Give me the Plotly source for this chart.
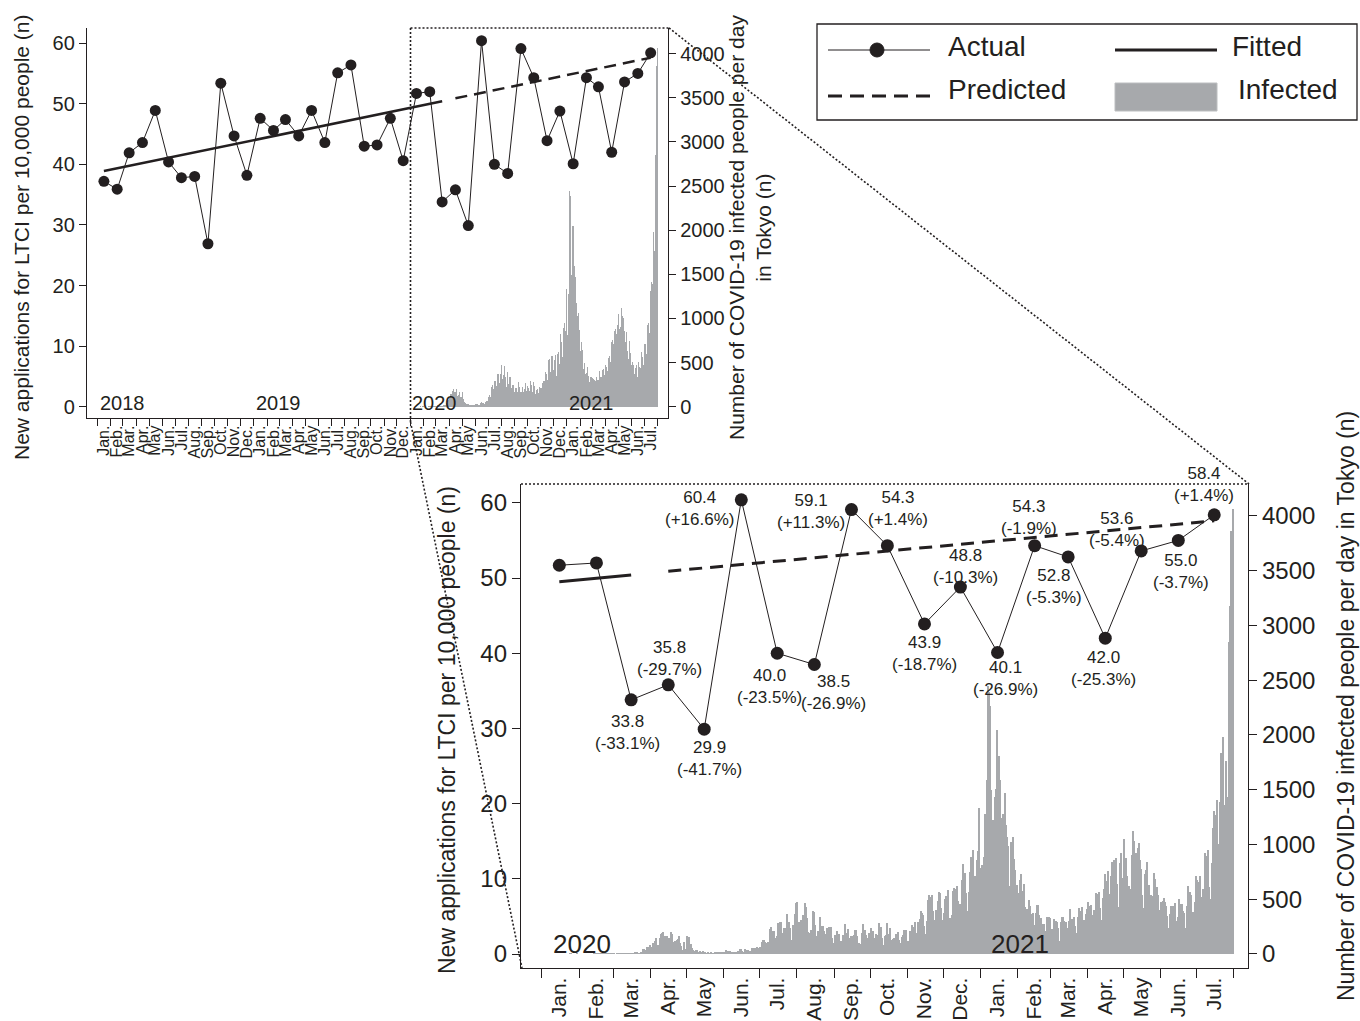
import plotly.graph_objects as go
import pandas as pd

# ---------------- data ----------------
month_abbr = ["Jan.", "Feb.", "Mar.", "Apr.", "May", "Jun.", "Jul.", "Aug.", "Sep.", "Oct.", "Nov.", "Dec."]

# New applications for LTCI per 10,000 people (monthly, Jan 2018 - Jul 2021)
actual_2018 = [37.2, 35.9, 41.9, 43.6, 48.9, 40.4, 37.8, 38.0, 26.9, 53.4, 44.7, 38.2]
actual_2019 = [47.6, 45.6, 47.4, 44.7, 48.9, 43.6, 55.1, 56.4, 43.0, 43.2, 47.6, 40.6]
actual_2020 = [51.7, 52.0, 33.8, 35.8, 29.9, 60.4, 40.0, 38.5, 59.1, 54.3, 43.9, 48.8]
actual_2021 = [40.1, 54.3, 52.8, 42.0, 53.6, 55.0, 58.4]

# change vs predicted, Mar 2020 - Jul 2021
pct_change = ["-33.1%", "-29.7%", "-41.7%", "+16.6%", "-23.5%", "-26.9%", "+11.3%", "+1.4%",
              "-18.7%", "-10.3%", "-26.9%", "-1.9%", "-5.3%", "-25.3%", "-5.4%", "-3.7%", "+1.4%"]

# fitted (pre-COVID trend) and predicted lines
fitted_months = ["2018-01", "2020-01", "2020-03"]
fitted_vals = [38.9, 49.5, 50.4]
predicted_months = ["2020-04", "2021-07"]
predicted_vals = [50.9, 57.6]

# daily COVID-19 infected people in Tokyo
c2020_01 = [0, 0, 0, 0, 0, 0, 0, 0, 0, 0, 0, 0, 0, 0, 0, 0, 0, 0, 0, 0, 0, 0, 0, 1, 1, 0, 0, 0, 0, 1, 0]
c2020_02 = [0, 0, 0, 0, 0, 0, 0, 0, 0, 0, 0, 0, 1, 2, 5, 3, 0, 3, 3, 3, 3, 1, 0, 2, 2, 3, 1, 1, 0]
c2020_03 = [2, 0, 2, 6, 8, 6, 2, 1, 2, 2, 7, 6, 2, 2, 2, 0, 7, 9, 2, 11, 7, 3, 16, 17, 41, 47, 40, 63, 68, 13, 78]
c2020_04 = [66, 97, 89, 118, 143, 83, 80, 144, 178, 189, 197, 166, 91, 161, 127, 149, 201, 181, 107, 102,
            123, 132, 134, 161, 103, 72, 39, 112, 47, 46]
c2020_05 = [165, 154, 91, 87, 58, 38, 23, 39, 36, 22, 15, 28, 10, 30, 9, 14, 5, 10, 5, 5,
            11, 3, 2, 14, 8, 10, 11, 15, 22, 14, 5]
c2020_06 = [13, 34, 12, 28, 20, 26, 14, 13, 12, 18, 22, 25, 24, 47, 48, 27, 16, 41, 35, 39,
            35, 29, 31, 55, 48, 54, 57, 60, 58, 54]
c2020_07 = [67, 107, 124, 131, 111, 102, 106, 75, 224, 243, 206, 206, 119, 143, 165, 286, 293, 290, 188, 168,
            237, 238, 366, 260, 295, 239, 131, 266, 250, 367, 463]
c2020_08 = [472, 292, 258, 309, 263, 360, 462, 429, 331, 197, 188, 222, 206, 389, 385, 260, 161, 207, 186, 339,
            258, 256, 212, 95, 182, 236, 250, 226, 247, 148, 100]
c2020_09 = [170, 141, 211, 136, 181, 116, 77, 170, 149, 276, 187, 226, 146, 80, 163, 163, 172, 220, 218, 162,
            98, 88, 59, 195, 270, 219, 174, 78, 144, 194]
c2020_10 = [235, 196, 207, 143, 78, 178, 177, 286, 186, 249, 146, 78, 166, 177, 284, 184, 235, 129, 78, 139,
            150, 185, 186, 203, 124, 102, 158, 171, 221, 215, 215]
c2020_11 = [116, 87, 209, 122, 269, 242, 294, 189, 157, 293, 317, 393, 374, 352, 255, 180, 298, 493, 534, 522,
            539, 391, 314, 186, 401, 481, 570, 561, 418, 311]
c2020_12 = [372, 500, 533, 449, 584, 327, 299, 352, 572, 602, 595, 621, 480, 305, 460, 678, 822, 664, 736, 556,
            392, 563, 748, 888, 884, 949, 708, 481, 856, 944, 1337]
c2021_01 = [783, 814, 816, 884, 1278, 1591, 2447, 2392, 2268, 1494, 1219, 970, 1433, 1502, 2044, 1809, 1592, 1204,
            1240, 1274, 1471, 1175, 1070, 986, 618, 1026, 973, 1064, 868, 769, 633]
c2021_02 = [393, 556, 676, 734, 577, 639, 429, 276, 412, 491, 434, 307, 369, 371, 266, 378, 445, 445, 353, 327,
            272, 178, 275, 213, 340, 270, 337, 329]
c2021_03 = [121, 232, 316, 279, 301, 293, 237, 116, 290, 340, 335, 304, 291, 239, 175, 300, 409, 323, 303, 342,
            256, 187, 337, 420, 394, 376, 430, 313, 234, 364, 414]
c2021_04 = [475, 440, 446, 355, 249, 399, 555, 545, 537, 570, 421, 306, 510, 591, 729, 667, 759, 543, 405, 711,
            843, 861, 759, 876, 635, 425, 828, 925, 629, 698]
c2021_05 = [1050, 879, 708, 609, 621, 591, 907, 1121, 1032, 573, 925, 969, 1010, 854, 772, 542, 419, 732, 766, 843,
            614, 629, 535, 340, 533, 743, 684, 614, 539, 398, 260]
c2021_06 = [471, 487, 508, 472, 436, 351, 235, 369, 440, 439, 435, 467, 304, 209, 337, 501, 452, 453, 388, 376,
            236, 435, 619, 570, 562, 534, 386, 317, 476, 714]
c2021_07 = [673, 660, 716, 518, 342, 593, 920, 896, 822, 950, 614, 502, 830, 1149, 1308, 1271, 1410, 1008, 727, 1387,
            1832, 1979, 1359, 1128, 1763, 1429, 2848, 3177, 3865, 3300, 4058]

# ---------------- assembly ----------------
INK = "#231f20"
GREY = "#a7a9ac"
FONT = "Liberation Sans, Arial, Helvetica, sans-serif"
W, H = 1360, 1021


def px(x):
    return x / W


def py(y):
    return (H - y) / H


daily_cases = (c2020_01 + c2020_02 + c2020_03 + c2020_04 + c2020_05 + c2020_06 + c2020_07 + c2020_08 +
               c2020_09 + c2020_10 + c2020_11 + c2020_12 + c2021_01 + c2021_02 + c2021_03 + c2021_04 +
               c2021_05 + c2021_06 + c2021_07)
days = pd.date_range("2020-01-01", periods=len(daily_cases), freq="D") + pd.Timedelta(hours=12)

actual_all = actual_2018 + actual_2019 + actual_2020 + actual_2021
month_starts = pd.date_range("2018-01-01", periods=len(actual_all), freq="MS")
month_mid = [d + pd.Timedelta(days=14.5) for d in month_starts]
month_labels = [month_abbr[d.month - 1] for d in month_starts]
minor_ticks_top = list(pd.date_range("2018-01-01", periods=len(actual_all) + 1, freq="MS"))


def mid(ym):
    return pd.Timestamp(ym + "-01") + pd.Timedelta(days=14.5)


fit_x = [mid(m) for m in fitted_months]
pred_x = [mid(m) for m in predicted_months]

bot_idx = [i for i, d in enumerate(month_starts) if d.year >= 2020]
bot_x = [month_mid[i] for i in bot_idx]
bot_y = [actual_all[i] for i in bot_idx]
bot_labels = [month_labels[i] for i in bot_idx]
minor_ticks_bot = list(pd.date_range("2020-01-01", periods=len(bot_idx) + 1, freq="MS"))
fit_bot = [(x, v) for x, v in zip(fit_x, fitted_vals) if x.year >= 2020]

fig = go.Figure()

# ---- top panel ----
fig.add_trace(go.Bar(x=days, y=daily_cases, xaxis="x", yaxis="y", marker=dict(color=GREY, line_width=0),
                     width=86400000, showlegend=False, hoverinfo="skip"))
fig.add_trace(go.Scatter(x=fit_x, y=fitted_vals, xaxis="x", yaxis="y2", mode="lines",
                         line=dict(color=INK, width=2.5), showlegend=False))
fig.add_trace(go.Scatter(x=pred_x, y=predicted_vals, xaxis="x", yaxis="y2", mode="lines",
                         line=dict(color=INK, width=2.5, dash="12px,7px"), showlegend=False))
fig.add_trace(go.Scatter(x=month_mid, y=actual_all, xaxis="x", yaxis="y2", mode="lines+markers",
                         line=dict(color=INK, width=1), marker=dict(color=INK, size=11), showlegend=False))

# ---- bottom panel ----
fig.add_trace(go.Bar(x=days, y=daily_cases, xaxis="x2", yaxis="y3", marker=dict(color=GREY, line_width=0),
                     width=86400000, showlegend=False, hoverinfo="skip"))
fig.add_trace(go.Scatter(x=[a for a, b in fit_bot], y=[b for a, b in fit_bot], xaxis="x2", yaxis="y4",
                         mode="lines", line=dict(color=INK, width=3), showlegend=False))
fig.add_trace(go.Scatter(x=pred_x, y=predicted_vals, xaxis="x2", yaxis="y4", mode="lines",
                         line=dict(color=INK, width=3, dash="13px,8px"), showlegend=False))
fig.add_trace(go.Scatter(x=bot_x, y=bot_y, xaxis="x2", yaxis="y4", mode="lines+markers",
                         line=dict(color=INK, width=1), marker=dict(color=INK, size=13), showlegend=False))

axis_common = dict(showline=True, linecolor=INK, linewidth=1.3, showgrid=False, zeroline=False,
                   ticks="outside", tickcolor=INK, tickwidth=1.2, automargin=False)

fig.update_layout(
    width=W, height=H, margin=dict(l=0, r=0, t=0, b=0, autoexpand=False),
    paper_bgcolor="white", plot_bgcolor="rgba(0,0,0,0)",
    font=dict(family=FONT, color=INK),
    bargap=0, showlegend=False,
    xaxis=dict(**{**axis_common, "ticks": ""}, domain=[px(87), px(668)], anchor="y", type="date",
               range=["2017-12-07", "2021-08-25"], tickmode="array", tickvals=month_mid, ticktext=month_labels,
               tickangle=-90, tickfont=dict(size=16), ticklabelstandoff=0,
               minor=dict(tickmode="array", tickvals=minor_ticks_top, ticks="outside", ticklen=7,
                          tickwidth=1.2, tickcolor=INK, showgrid=False)),
    yaxis=dict(**axis_common, domain=[py(418), py(28)], anchor="x", side="right", range=[-128, 4290],
               tickvals=list(range(0, 4001, 500)), ticklen=7, tickfont=dict(size=20)),
    yaxis2=dict(**axis_common, overlaying="y", anchor="x", side="left", range=[-1.85, 62.5],
                tickvals=list(range(0, 61, 10)), ticklen=7, tickfont=dict(size=20)),
    xaxis2=dict(**{**axis_common, "ticks": ""}, domain=[px(521), px(1248)], anchor="y3", type="date",
                range=["2019-12-14 12:00", "2021-08-12 17:00"], tickmode="array", tickvals=bot_x,
                ticktext=bot_labels, tickangle=-90, tickfont=dict(size=21), ticklabelstandoff=0,
                minor=dict(tickmode="array", tickvals=minor_ticks_bot, ticks="outside", ticklen=9,
                           tickwidth=1.2, tickcolor=INK, showgrid=False)),
    yaxis3=dict(**axis_common, domain=[py(968), py(484)], anchor="x2", side="right", range=[-128, 4290],
                tickvals=list(range(0, 4001, 500)), ticklen=8, tickfont=dict(size=24)),
    yaxis4=dict(**axis_common, overlaying="y3", anchor="x2", side="left", range=[-1.85, 62.5],
                tickvals=list(range(0, 61, 10)), ticklen=8, tickfont=dict(size=24)),
)

# ---- dotted zoom guides ----
dot = dict(color=INK, width=1.6, dash="2px,2px")
shapes = []
for (x0, y0, x1, y1) in [(410.5, 28, 669, 28), (410.5, 28, 410.5, 422), (410.5, 422, 522, 968),
                         (669, 28, 1249, 484), (521, 484, 1249, 484)]:
    shapes.append(dict(type="line", xref="paper", yref="paper", x0=px(x0), y0=py(y0), x1=px(x1), y1=py(y1),
                       line=dot, layer="above"))

# ---- legend (manual) ----
shapes.append(dict(type="rect", xref="paper", yref="paper", x0=px(817), y0=py(120), x1=px(1357), y1=py(24),
                   line=dict(color=INK, width=1.3), fillcolor="white", layer="above"))
shapes.append(dict(type="line", xref="paper", yref="paper", x0=px(828), y0=py(50), x1=px(930), y1=py(50),
                   line=dict(color=INK, width=1), layer="above"))
shapes.append(dict(type="circle", xref="paper", yref="paper", x0=px(870), y0=py(57), x1=px(884), y1=py(43),
                   line=dict(color=INK, width=1), fillcolor=INK, layer="above"))
shapes.append(dict(type="line", xref="paper", yref="paper", x0=px(828), y0=py(96), x1=px(930), y1=py(96),
                   line=dict(color=INK, width=3, dash="14px,8px"), layer="above"))
shapes.append(dict(type="line", xref="paper", yref="paper", x0=px(1115), y0=py(50), x1=px(1217), y1=py(50),
                   line=dict(color=INK, width=3), layer="above"))
shapes.append(dict(type="rect", xref="paper", yref="paper", x0=px(1115), y0=py(111), x1=px(1217), y1=py(83),
                   line=dict(color="#bcbec0", width=1), fillcolor=GREY, layer="above"))

ann = []
for txt, x, y in [("Actual", 946, 47), ("Predicted", 946, 90), ("Fitted", 1230, 47), ("Infected", 1236, 90)]:
    ann.append(dict(text=txt, xref="paper", yref="paper", x=px(x), y=py(y), xanchor="left", yanchor="middle",
                    showarrow=False, font=dict(size=28)))

# axis titles
title_kw = dict(xref="paper", yref="paper", textangle=-90, showarrow=False, xanchor="center", yanchor="middle")
ann.append(dict(text="New applications for LTCI per 10,000 people (n)", x=px(22), y=py(237),
                font=dict(size=21), **title_kw))
ann.append(dict(text="Number of COVID-19 infected people per day<br>in Tokyo (n)", x=px(750), y=py(228),
                font=dict(size=21), **title_kw))
ann.append(dict(text="New applications for LTCI per 10,000 people (n)", x=px(447), y=py(730),
                font=dict(size=23), **title_kw))
ann.append(dict(text="Number of COVID-19 infected people per day in Tokyo (n)", x=px(1346), y=py(706),
                font=dict(size=23), **title_kw))

# year labels
for yr in ["2018", "2019", "2020", "2021"]:
    ann.append(dict(text=yr, xref="x", yref="y2", x=pd.Timestamp(yr + "-01-01"), y=0.7, xanchor="left",
                    yanchor="middle", showarrow=False, font=dict(size=20)))
for yr in ["2020", "2021"]:
    ann.append(dict(text=yr, xref="x2", yref="y4", x=pd.Timestamp(yr + "-01-01"), y=1.3, xanchor="left",
                    yanchor="middle", xshift=9, showarrow=False, font=dict(size=26)))

# value labels (Mar 2020 - Jul 2021)
label_offsets = [(-4, -33), (1, 26), (5, -29), (-42, -9), (-8, -33), (19, -28), (-40, -2), (11, 37),
                 (0, -30), (5, 21), (8, -26), (-6, 28), (-14, -30), (-2, -30), (-24, 21), (3, -31), (-10, 30)]
for (x, v), pct, (dx, dy) in zip(list(zip(bot_x, bot_y))[2:], pct_change, label_offsets):
    ann.append(dict(text=f"{v:.1f}<br>({pct})", xref="x2", yref="y4", x=x, y=v, xshift=dx, yshift=dy,
                    showarrow=False, font=dict(size=17), align="center", xanchor="center", yanchor="middle"))

fig.update_layout(shapes=shapes, annotations=ann)

fig.write_html("out.html", config={"displayModeBar": False},
               post_script="document.body.style.margin='0';")
